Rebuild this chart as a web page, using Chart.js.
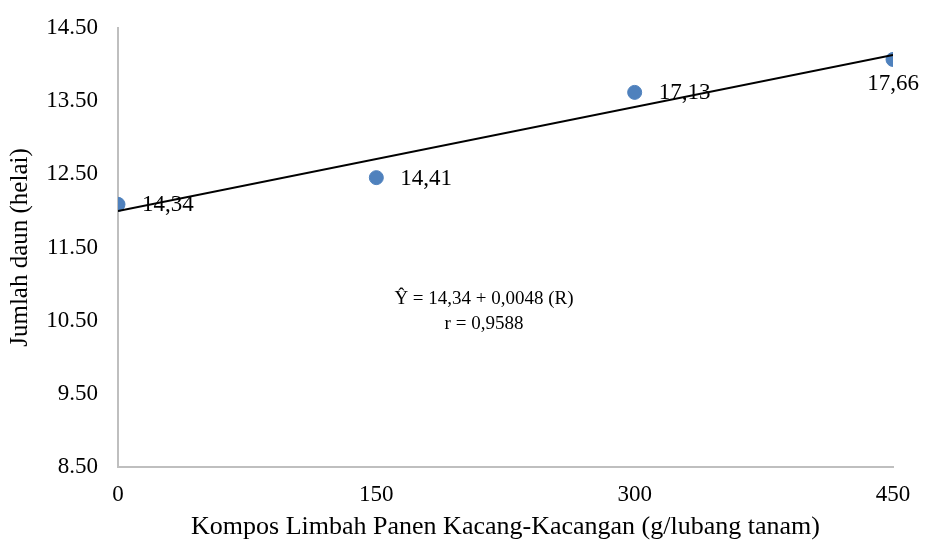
<!DOCTYPE html>
<html>
<head>
<meta charset="utf-8">
<script src="https://cdn.jsdelivr.net/npm/chart.js@4"></script>
<style>
  body { margin: 0; background: #fff; }
  #wrap { width: 935px; height: 545px; }
</style>
</head>
<body>
<div id="wrap"><canvas id="chart" width="935" height="545"></canvas></div>
<script>
// Data dari grafik
const dosis = [0, 150, 300, 450];
const jumlahDaun = [12.09, 12.455, 13.62, 14.07];
const labelTitik = ['14,34', '14,41', '17,13', '17,66'];
// garis regresi (ujung kiri dan kanan)
const trendX = [0, 450];
const trendY = [12.0, 14.13];
const yTicks = [8.5, 9.5, 10.5, 11.5, 12.5, 13.5, 14.5];
const xTicks = [0, 150, 300, 450];

const fontSerif = '"Liberation Serif", "Times New Roman", serif';

// label di samping titik + persamaan
const labelPlugin = {
    id: 'labelTitik',
    afterDatasetsDraw(chart) {
        const ctx = chart.ctx;
        const meta = chart.getDatasetMeta(1);
        ctx.save();
        ctx.fillStyle = '#000';
        ctx.font = '23px ' + fontSerif;
        ctx.textBaseline = 'middle';
        meta.data.forEach((pt, i) => {
            if (i === meta.data.length - 1) {
                ctx.textAlign = 'center';
                ctx.fillText(labelTitik[i], pt.x, pt.y + 24);
            } else {
                ctx.textAlign = 'left';
                ctx.fillText(labelTitik[i], pt.x + 24, pt.y + 1);
            }
        });
        // persamaan regresi
        ctx.font = '19px ' + fontSerif;
        ctx.textAlign = 'center';
        ctx.fillText('\u0176 = 14,34 + 0,0048 (R)', 484, 299);
        ctx.fillText('r = 0,9588', 484, 324);
        ctx.restore();
    }
};

new Chart(document.getElementById('chart'), {
    type: 'scatter',
    data: {
        datasets: [
            {
                type: 'line',
                data: trendX.map((x, i) => ({ x: x, y: trendY[i] })),
                borderColor: '#000',
                borderWidth: 2,
                pointRadius: 0,
                fill: false
            },
            {
                data: dosis.map((x, i) => ({ x: x, y: jumlahDaun[i] })),
                backgroundColor: '#4F81BD',
                borderColor: '#4F81BD',
                pointRadius: 7,
                pointHoverRadius: 7
            }
        ]
    },
    options: {
        responsive: false,
        animation: false,
        layout: { padding: { left: 5, right: 42, top: 28, bottom: 2 } },
        plugins: { legend: { display: false }, tooltip: { enabled: false } },
        scales: {
            x: {
                type: 'linear',
                min: 0,
                max: 450,
                afterBuildTicks: s => { s.ticks = xTicks.map(v => ({ value: v })); },
                afterFit: s => { s.height = 76; },
                grid: { display: false, drawTicks: false },
                border: { color: '#BFBFBF', width: 2 },
                ticks: { color: '#000', font: { family: fontSerif, size: 23 }, padding: 14 },
                title: {
                    display: true,
                    text: 'Kompos Limbah Panen Kacang-Kacangan (g/lubang tanam)',
                    color: '#000',
                    font: { family: fontSerif, size: 26 },
                    padding: 0
                }
            },
            y: {
                min: 8.5,
                max: 14.5,
                afterBuildTicks: s => { s.ticks = yTicks.map(v => ({ value: v })); },
                afterFit: s => { s.width = 113; s.paddingTop = 0; s.paddingBottom = 0; },
                grid: { display: false, drawTicks: false },
                border: { color: '#BFBFBF', width: 2 },
                ticks: {
                    color: '#000',
                    font: { family: fontSerif, size: 23 },
                    padding: 20,
                    callback: v => v.toFixed(2)
                },
                title: {
                    display: true,
                    text: 'Jumlah daun (helai)',
                    color: '#000',
                    font: { family: fontSerif, size: 25 },
                    padding: 0
                }
            }
        }
    },
    plugins: [labelPlugin]
});
</script>
</body>
</html>
